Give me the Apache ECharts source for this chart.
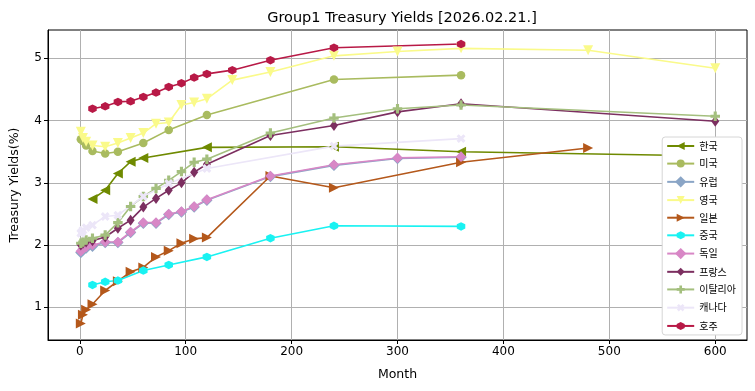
<!DOCTYPE html>
<html><head><meta charset="utf-8">
<script src="https://cdn.jsdelivr.net/npm/echarts@6/dist/echarts.min.js"></script>
<style>html,body{margin:0;padding:0;background:#fff}#c{width:755px;height:391px}</style>
</head><body><div id="c"></div>
<script>
// ---- data ----
const chartTitle = 'Group1 Treasury Yields [2026.02.21.]';
const xTicks = [0, 100, 200, 300, 400, 500, 600];
const yTicks = [1, 2, 3, 4, 5];

const korMonths = [12, 24, 36, 48, 60, 120, 240, 360, 600];
const korYields = [2.74, 2.88, 3.15, 3.34, 3.40, 3.57, 3.58, 3.50, 3.43];

const usMonths = [1, 3, 6, 12, 24, 36, 60, 84, 120, 240, 360];
const usYields = [3.70, 3.67, 3.60, 3.51, 3.47, 3.50, 3.64, 3.85, 4.09, 4.66, 4.73];

const euMonths = [1, 3, 6, 12, 24, 36, 48, 60, 72, 84, 96, 108, 120, 180, 240, 300, 360];
const euYields = [1.88, 1.92, 1.95, 1.98, 2.04, 2.04, 2.20, 2.35, 2.35, 2.49, 2.53, 2.61, 2.72, 3.10, 3.28, 3.39, 3.41];

const ukMonths = [1, 3, 6, 12, 24, 36, 48, 60, 72, 84, 96, 108, 120, 144, 180, 240, 300, 360, 480, 600];
const ukYields = [3.82, 3.72, 3.66, 3.60, 3.58, 3.64, 3.72, 3.80, 3.95, 3.97, 4.25, 4.29, 4.35, 4.65, 4.78, 5.04, 5.11, 5.16, 5.13, 4.84];

const jpMonths = [1, 3, 6, 12, 24, 36, 48, 60, 72, 84, 96, 108, 120, 180, 240, 360, 480];
const jpYields = [0.74, 0.88, 0.96, 1.05, 1.27, 1.42, 1.57, 1.64, 1.81, 1.91, 2.03, 2.10, 2.12, 3.11, 2.92, 3.33, 3.56];

const cnMonths = [12, 24, 36, 60, 84, 120, 180, 240, 360];
const cnYields = [1.36, 1.41, 1.43, 1.59, 1.68, 1.81, 2.11, 2.31, 2.30];

const deMonths = [1, 3, 6, 12, 24, 36, 48, 60, 72, 84, 96, 108, 120, 180, 240, 300, 360];
const deYields = [1.90, 1.94, 1.97, 2.00, 2.05, 2.05, 2.21, 2.36, 2.36, 2.50, 2.54, 2.62, 2.73, 3.11, 3.29, 3.40, 3.42];

const frMonths = [1, 3, 6, 12, 24, 36, 48, 60, 72, 84, 96, 108, 120, 180, 240, 300, 360, 600];
const frYields = [2.00, 2.03, 2.05, 2.07, 2.13, 2.27, 2.40, 2.61, 2.75, 2.88, 3.00, 3.17, 3.30, 3.76, 3.92, 4.14, 4.27, 3.99];

const itMonths = [1, 3, 6, 12, 24, 36, 48, 60, 72, 84, 96, 108, 120, 180, 240, 300, 360, 600];
const itYields = [2.03, 2.05, 2.08, 2.11, 2.16, 2.36, 2.62, 2.78, 2.91, 3.04, 3.18, 3.33, 3.38, 3.80, 4.04, 4.19, 4.25, 4.07];

const caMonths = [1, 2, 3, 6, 12, 24, 36, 60, 84, 120, 240, 360];
const caYields = [2.19, 2.21, 2.24, 2.28, 2.32, 2.46, 2.48, 2.78, 2.99, 3.23, 3.59, 3.71];

const auMonths = [12, 24, 36, 48, 60, 72, 84, 96, 108, 120, 144, 180, 240, 360];
const auYields = [4.19, 4.23, 4.30, 4.31, 4.38, 4.45, 4.54, 4.60, 4.69, 4.75, 4.81, 4.97, 5.17, 5.23];

const seriesNames = ['한국', '미국', '유럽', '영국', '일본', '중국', '독일', '프랑스', '이탈리아', '캐나다', '호주'];
const seriesMonths = [korMonths, usMonths, euMonths, ukMonths, jpMonths, cnMonths, deMonths, frMonths, itMonths, caMonths, auMonths];
const seriesYields = [korYields, usYields, euYields, ukYields, jpYields, cnYields, deYields, frYields, itYields, caYields, auYields];

// ---- styles ----
const hexPath = 'path://M0,-1L0.866,-0.5L0.866,0.5L0,1L-0.866,0.5L-0.866,-0.5Z';
const plusPath = 'path://M-1,-0.33L-0.33,-0.33L-0.33,-1L0.33,-1L0.33,-0.33L1,-0.33L1,0.33L0.33,0.33L0.33,1L-0.33,1L-0.33,0.33L-1,0.33Z';
const styles = [
  {color: '#6f8a00', symbol: 'triangle', rot: 90, size: 10},
  {color: '#a9bb5f', symbol: 'circle', rot: 0, size: 8.5},
  {color: '#8aa5c6', symbol: 'rect', rot: 45, size: 8},
  {color: '#fafa8a', symbol: 'triangle', rot: 180, size: 10},
  {color: '#b4581b', symbol: 'triangle', rot: -90, size: 10},
  {color: '#19f2f2', symbol: hexPath, rot: 0, size: 8.5},
  {color: '#d887c6', symbol: 'rect', rot: 45, size: 7.5},
  {color: '#7c2f60', symbol: 'diamond', rot: 0, size: [8, 11]},
  {color: '#a4bf7e', symbol: plusPath, rot: 0, size: 9.5},
  {color: '#ece6f8', symbol: plusPath, rot: 45, size: 9.5},
  {color: '#b81946', symbol: hexPath, rot: 0, size: 8.5}
];

const series = seriesNames.map((name, i) => ({
  name: name,
  type: 'line',
  data: seriesMonths[i].map((m, j) => [m, seriesYields[i][j]]),
  symbol: styles[i].symbol,
  symbolRotate: styles[i].rot,
  symbolSize: styles[i].size,
  showAllSymbol: true,
  lineStyle: {width: 1.6, color: styles[i].color},
  itemStyle: {color: styles[i].color, borderWidth: 0},
  emphasis: {disabled: true},
  animation: false
}));

const font = 'DejaVu Sans';
const chart = echarts.init(document.getElementById('c'));
chart.setOption({
  animation: false,
  backgroundColor: '#fff',
  title: {
    text: chartTitle, left: 397, top: 6, textAlign: 'center',
    textStyle: {fontFamily: font, fontSize: 14.5, fontWeight: 'normal', color: '#000'}
  },
  grid: {left: 48, right: 8, top: 30, bottom: 51, show: true, borderColor: '#000', borderWidth: 1, backgroundColor: 'transparent'},
  xAxis: {
    type: 'value', min: -30, max: 630,
    name: 'Month', nameLocation: 'middle', nameGap: 28,
    nameTextStyle: {fontFamily: font, fontSize: 12.5, color: '#000'},
    axisLine: {show: true, onZero: false, lineStyle: {color: '#000', width: 1}},
    axisTick: {show: true, length: 4, customValues: xTicks, lineStyle: {color: '#000'}},
    axisLabel: {customValues: xTicks, fontFamily: font, fontSize: 12, color: '#000', margin: 6},
    splitLine: {show: true, lineStyle: {color: '#b0b0b0', width: 1}}
  },
  yAxis: {
    type: 'value', min: 0.475, max: 5.455,
    name: 'Treasury Yields(%)', nameLocation: 'middle', nameGap: 27,
    nameTextStyle: {fontFamily: font, fontSize: 12.5, color: '#000'},
    axisLine: {show: true, onZero: false, lineStyle: {color: '#000', width: 1}},
    axisTick: {show: true, length: 4, customValues: yTicks, lineStyle: {color: '#000'}},
    axisLabel: {customValues: yTicks, fontFamily: font, fontSize: 12, color: '#000', margin: 6},
    splitLine: {show: true, lineStyle: {color: '#b0b0b0', width: 1}}
  },
  legend: {
    data: seriesNames, orient: 'vertical', right: 13, top: 137,
    backgroundColor: '#fff', borderColor: '#d6d6d6', borderWidth: 1, borderRadius: 3,
    padding: [4, 6, 4, 4], itemWidth: 27, itemHeight: 10, itemGap: 7.6,
    textStyle: {fontFamily: 'Noto Sans CJK KR', fontSize: 10, color: '#000'}
  },
  series: series
});
</script>
</body></html>
